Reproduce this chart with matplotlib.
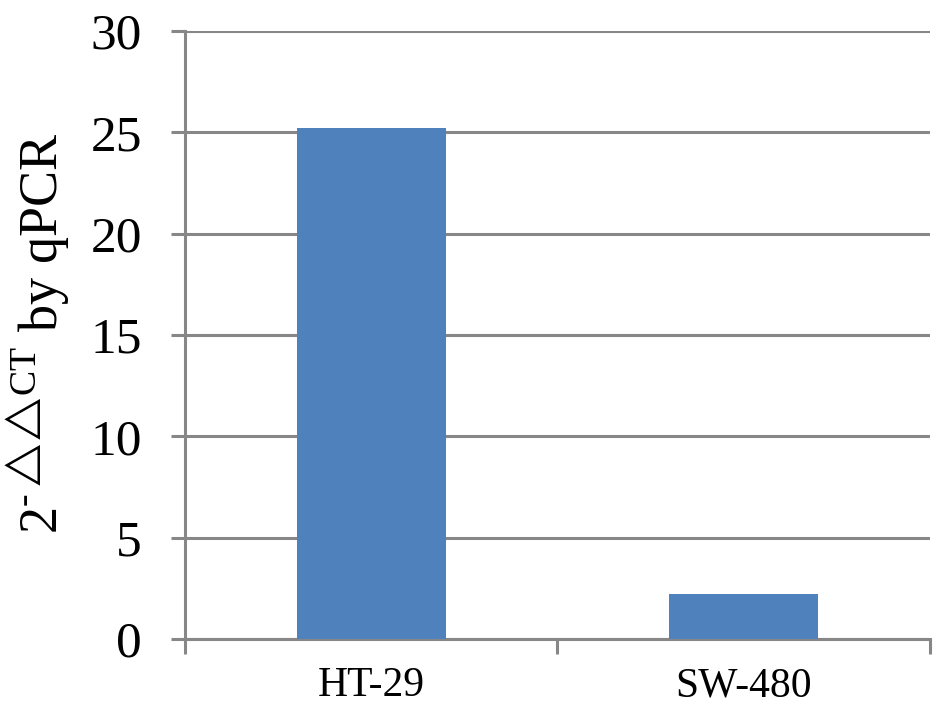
import matplotlib
matplotlib.use("Agg")
import matplotlib.pyplot as plt

categories = ["HT-29", "SW-480"]
values = [25.2, 2.2]
y_ticks = [0, 5, 10, 15, 20, 25, 30]

plt.rcParams['font.family'] = ['Liberation Serif', 'DejaVu Serif']
plt.rcParams['mathtext.fontset'] = 'custom'
plt.rcParams['mathtext.rm'] = 'Liberation Serif'
plt.rcParams['mathtext.fallback'] = 'stix'

grey = '#878787'
fig = plt.figure(figsize=(9.45, 7.12), dpi=100)
ax = fig.add_axes([185/945, 73/712, 745/945, 608/712])

x = list(range(len(categories)))
ax.bar(x, values, width=0.4, color='#4F81BD', zorder=3)

ax.set_xlim(-0.5, len(categories) - 0.5)
ax.set_ylim(0, 30)
ax.set_yticks(y_ticks)
ax.set_yticklabels([str(t) for t in y_ticks], fontsize=37)
ax.yaxis.grid(True, color=grey, linewidth=2.2, zorder=0)
ax.set_axisbelow(True)

ax.set_xticks([i - 0.5 for i in range(len(categories) + 1)])
ax.set_xticklabels([])
ax.set_xticks(x, minor=True)
ax.set_xticklabels(categories, minor=True, fontsize=30)
ax.tick_params(axis='x', which='minor', length=0, pad=20)
ax.tick_params(axis='x', which='major', length=11, width=2.2, color=grey, direction='out')
ax.tick_params(axis='y', length=10, width=2.2, color=grey, direction='out', pad=21)

for s in ['top', 'right']:
    ax.spines[s].set_visible(False)
for s in ['left', 'bottom']:
    ax.spines[s].set_color(grey)
    ax.spines[s].set_linewidth(2.2)

ax.set_ylabel(r'2$^{\text{-}\triangle\!\!\triangle\!\mathrm{CT}}\;$by qPCR', fontsize=39)
ax.yaxis.set_label_coords(-0.152, 0.503)

fig.savefig('out.png', dpi=100)
